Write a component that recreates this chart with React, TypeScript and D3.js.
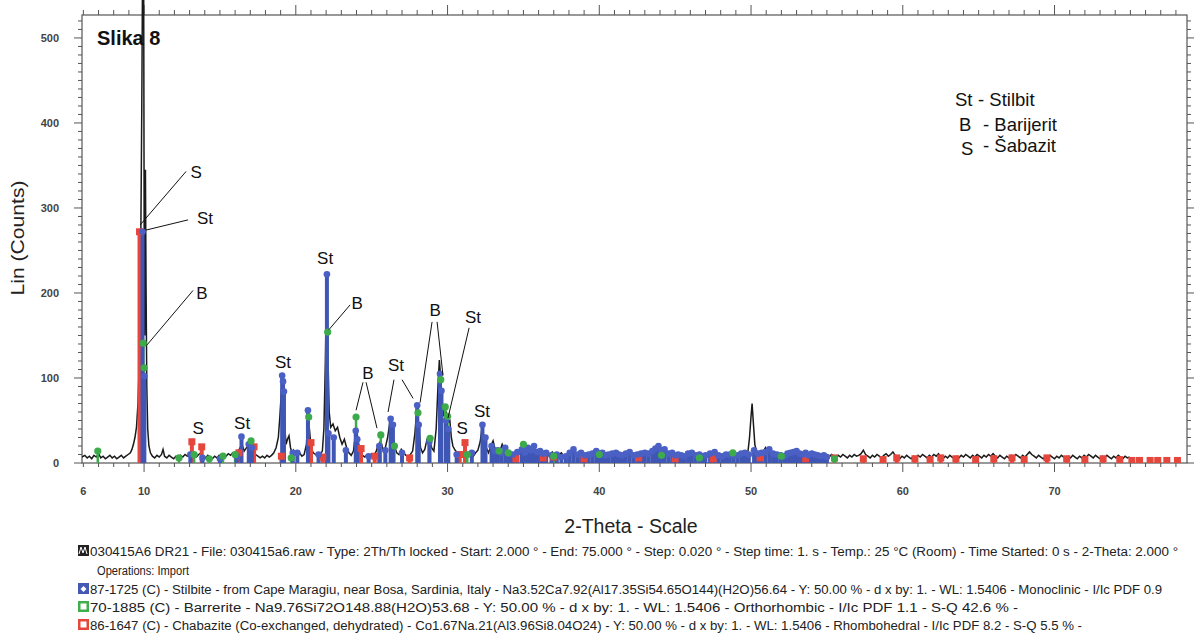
import * as d3 from "d3";

const traceA = [
  [5.9, 7], [6.1, 9], [6.25, 6], [6.4, 8], [6.55, 5], [6.7, 9], [6.85, 7], [7.0, 11], [7.15, 6], [7.3, 8],
  [7.45, 5], [7.6, 7], [7.75, 9], [7.9, 6], [8.05, 8], [8.2, 5], [8.35, 7], [8.5, 9], [8.65, 6], [8.8, 8],
  [8.95, 10], [9.1, 12], [9.2, 16], [9.3, 22], [9.4, 30], [9.5, 42], [9.6, 70], [9.7, 130], [9.78, 250],
  [9.85, 420], [9.92, 640], [9.97, 600], [10.01, 250], [10.05, 150], [10.09, 345], [10.13, 210], [10.18, 90],
  [10.24, 40], [10.32, 20], [10.42, 12], [10.55, 8], [10.7, 6], [10.85, 9], [11.0, 7], [11.15, 10], [11.25, 16],
  [11.35, 8], [11.5, 6], [11.65, 9], [11.8, 7], [11.95, 5],
];
const traceB = [
  [12.1, 8], [12.25, 6], [12.4, 9], [12.55, 7], [12.7, 10], [12.85, 8], [13.0, 11], [13.15, 14], [13.3, 9],
  [13.45, 7], [13.6, 10], [13.75, 12], [13.9, 8], [14.05, 6], [14.2, 9], [14.35, 7], [14.5, 5], [14.65, 8],
  [14.8, 6], [14.95, 9], [15.1, 7], [15.25, 10], [15.4, 8], [15.55, 11], [15.7, 9], [15.85, 12], [16.0, 10],
  [16.15, 13], [16.3, 17], [16.45, 22], [16.6, 14], [16.75, 18], [16.9, 21], [17.05, 19], [17.2, 15], [17.35, 10],
  [17.5, 8], [17.65, 6], [17.8, 8], [17.95, 6], [18.1, 9], [18.25, 7], [18.4, 9], [18.55, 12], [18.7, 18],
  [18.85, 30], [18.95, 55], [19.05, 85], [19.12, 98], [19.2, 80], [19.28, 40], [19.36, 22], [19.45, 28],
  [19.55, 32], [19.65, 18], [19.75, 12], [19.85, 15], [19.95, 10],
];
const traceC = [
  [20.1, 9], [20.25, 12], [20.4, 8], [20.55, 10], [20.7, 22], [20.8, 50], [20.9, 40], [21.0, 18], [21.15, 12],
  [21.3, 10], [21.45, 8], [21.6, 10], [21.75, 14], [21.85, 40], [21.95, 120], [22.03, 215], [22.1, 140],
  [22.2, 60], [22.3, 42], [22.45, 46], [22.6, 38], [22.75, 42], [22.9, 30], [23.05, 22], [23.2, 28], [23.35, 18],
  [23.5, 12], [23.65, 9], [23.8, 14], [23.9, 30], [24.0, 42], [24.1, 26], [24.25, 12], [24.4, 9], [24.55, 7],
  [24.7, 10], [24.85, 8], [25.0, 11], [25.15, 9], [25.3, 14], [25.45, 22], [25.6, 26], [25.75, 15], [25.9, 18],
  [26.05, 30], [26.2, 48], [26.35, 40], [26.5, 20], [26.65, 12], [26.8, 10], [26.95, 16], [27.1, 12], [27.25, 9],
  [27.4, 8], [27.55, 10], [27.7, 14], [27.85, 35], [27.98, 66], [28.1, 45], [28.22, 18], [28.35, 12], [28.5, 16],
  [28.65, 28], [28.8, 30], [28.95, 18], [29.1, 14], [29.25, 40], [29.38, 95], [29.46, 121], [29.55, 100],
  [29.65, 70], [29.75, 55], [29.85, 62], [29.95, 58], [30.05, 48], [30.15, 50], [30.25, 30], [30.35, 20],
  [30.5, 15], [30.65, 12], [30.8, 10], [30.95, 8], [31.1, 11], [31.25, 9], [31.4, 12], [31.55, 10], [31.7, 8],
  [31.85, 12], [32.0, 15], [32.15, 25], [32.28, 42], [32.4, 30], [32.55, 18], [32.7, 12], [32.85, 20], [33.0, 26],
  [33.15, 15], [33.3, 10], [33.45, 14], [33.6, 22], [33.75, 16], [33.9, 11], [34.05, 9], [34.2, 12], [34.35, 8],
  [34.5, 10], [34.65, 9], [34.8, 13], [34.95, 16],
];
const traceD = [
  [35.1, 12], [35.25, 15], [35.4, 11], [35.55, 14], [35.7, 17], [35.85, 12], [36.0, 15], [36.15, 11], [36.3, 9],
  [36.45, 12], [36.6, 8], [36.75, 10], [36.9, 13], [37.05, 9], [37.2, 7], [37.35, 10], [37.5, 12], [37.65, 8],
  [37.8, 6], [37.95, 8], [38.1, 11], [38.25, 14], [38.4, 10], [38.55, 8], [38.7, 11], [38.85, 9], [39.0, 7],
  [39.15, 10], [39.3, 8], [39.45, 11], [39.6, 9], [39.75, 12], [39.9, 10], [40.05, 8], [40.2, 11], [40.35, 9],
  [40.5, 7], [40.65, 10], [40.8, 8], [40.95, 12], [41.1, 10], [41.25, 8], [41.4, 11], [41.55, 9], [41.7, 7],
  [41.85, 10], [42.0, 12], [42.15, 9], [42.3, 7], [42.45, 10], [42.6, 8], [42.75, 11], [42.9, 9], [43.05, 12],
  [43.2, 10], [43.35, 13], [43.5, 11], [43.65, 15], [43.8, 18], [43.95, 14], [44.1, 11], [44.25, 13], [44.4, 10],
  [44.55, 8], [44.7, 11], [44.85, 9], [45.0, 7], [45.15, 10], [45.3, 8], [45.45, 6], [45.6, 9], [45.75, 7],
  [45.9, 10], [46.05, 8], [46.2, 11], [46.35, 9], [46.5, 7], [46.65, 10], [46.8, 8], [46.95, 6], [47.1, 9],
  [47.25, 7], [47.4, 10], [47.55, 12], [47.7, 9], [47.85, 7], [48.0, 10], [48.15, 8], [48.3, 6], [48.45, 9],
  [48.6, 11], [48.75, 8], [48.9, 10], [49.05, 8], [49.2, 7], [49.35, 10], [49.5, 12], [49.65, 9], [49.8, 14],
  [49.9, 30], [50.0, 55], [50.07, 70], [50.15, 48], [50.25, 22], [50.35, 14], [50.5, 11], [50.65, 9], [50.8, 13],
  [50.95, 18], [51.1, 12], [51.25, 9], [51.4, 11], [51.55, 8], [51.7, 10], [51.85, 7], [52.0, 9], [52.15, 11],
  [52.3, 8], [52.45, 10], [52.6, 12], [52.75, 9], [52.9, 14], [53.05, 11], [53.2, 8], [53.35, 10], [53.5, 7],
  [53.65, 9], [53.8, 8], [53.95, 10], [54.1, 7], [54.25, 9], [54.4, 6], [54.55, 8], [54.7, 10], [54.85, 7],
];
const traceE = [
  [55.0, 9], [55.15, 7], [55.3, 10], [55.45, 8], [55.6, 6], [55.75, 9], [55.9, 7], [56.05, 10], [56.2, 8],
  [56.35, 6], [56.5, 9], [56.65, 7], [56.8, 10], [56.95, 8], [57.1, 9], [57.25, 11], [57.4, 15], [57.55, 10],
  [57.7, 8], [57.85, 6], [58.0, 9], [58.15, 7], [58.3, 10], [58.45, 8], [58.6, 6], [58.75, 9], [58.9, 11],
  [59.05, 8], [59.2, 10], [59.35, 13], [59.5, 9], [59.65, 7], [59.8, 5], [59.95, 8], [60.1, 6], [60.25, 9],
  [60.4, 7], [60.55, 5], [60.7, 8], [60.85, 6], [61.0, 9], [61.15, 7], [61.3, 10], [61.45, 8], [61.6, 6],
  [61.75, 9], [61.9, 7], [62.05, 10], [62.2, 8], [62.35, 11], [62.5, 7], [62.65, 5], [62.8, 8], [62.95, 6],
  [63.1, 9], [63.25, 7], [63.4, 5], [63.55, 8], [63.7, 6], [63.85, 9], [64.0, 7], [64.15, 10], [64.3, 8],
  [64.45, 6], [64.6, 9], [64.75, 7], [64.9, 10], [65.05, 8], [65.2, 6], [65.35, 9], [65.5, 7], [65.65, 10],
  [65.8, 8], [65.95, 11], [66.1, 8], [66.25, 6], [66.4, 9], [66.55, 7], [66.7, 5], [66.85, 8], [67.0, 6],
  [67.15, 9], [67.3, 7], [67.45, 10], [67.6, 8], [67.75, 6], [67.9, 9], [68.05, 7], [68.2, 10], [68.35, 13],
  [68.5, 10], [68.65, 8], [68.8, 6], [68.95, 9], [69.1, 7], [69.25, 5], [69.4, 8], [69.55, 6], [69.7, 9],
  [69.85, 7], [70.0, 5], [70.15, 8], [70.3, 6], [70.45, 9], [70.6, 7], [70.75, 5], [70.9, 8], [71.05, 6],
  [71.2, 9], [71.35, 7], [71.5, 5], [71.65, 8], [71.8, 6], [71.95, 9], [72.1, 7], [72.25, 10], [72.4, 8],
  [72.55, 6], [72.7, 9], [72.85, 7], [73.0, 5], [73.15, 8], [73.3, 6], [73.45, 9], [73.6, 7], [73.75, 5],
  [73.9, 8], [74.05, 6], [74.2, 9], [74.35, 7], [74.5, 5], [74.65, 8], [74.8, 6], [74.95, 7],
];

// reference patterns (sticks): [2-theta, intensity]
const stilbite = [
  [9.9, 272], [10.02, 102], [13.05, 10], [13.85, 6], [15.0, 5], [16.1, 8], [16.42, 31], [16.9, 22], [17.1, 18],
  [19.1, 103], [19.16, 96], [19.22, 84], [19.8, 12], [20.1, 12], [20.8, 62], [21.5, 10], [22.05, 222], [22.15, 35],
  [22.5, 30], [23.3, 15], [23.95, 38], [24.05, 28], [24.8, 8], [25.5, 20], [25.9, 15], [26.25, 52], [26.4, 45],
  [27.0, 12], [28.0, 68], [28.1, 45], [28.8, 25], [29.5, 105], [29.6, 85], [29.9, 50], [30.05, 40], [30.6, 10],
  [31.6, 12], [32.3, 45], [32.5, 30], [32.9, 20], [33.1, 14], [33.3, 15], [33.55, 12], [33.8, 18], [34.05, 11],
  [34.3, 10], [34.6, 13], [34.9, 16], [35.1, 12], [35.3, 18], [35.5, 15], [35.7, 20], [35.9, 13], [36.1, 14],
  [36.3, 11], [36.5, 12], [36.85, 9], [37.2, 10], [37.5, 7], [37.8, 8], [38.05, 12], [38.3, 16], [38.55, 10],
  [38.8, 12], [39.05, 9], [39.3, 10], [39.55, 11], [39.8, 14], [40.0, 11], [40.2, 12], [40.4, 9], [40.6, 10],
  [40.85, 11], [41.1, 12], [41.3, 10], [41.5, 9], [41.75, 11], [42.0, 13], [42.25, 9], [42.5, 10], [42.75, 11],
  [43.0, 12], [43.25, 11], [43.5, 14], [43.7, 17], [43.9, 20], [44.1, 15], [44.3, 16], [44.55, 11], [44.8, 12],
  [45.0, 9], [45.2, 10], [45.4, 9], [45.6, 8], [45.85, 11], [46.1, 12], [46.35, 9], [46.6, 10], [46.8, 8],
  [47.0, 9], [47.3, 11], [47.6, 13], [47.85, 9], [48.1, 8], [48.35, 10], [48.6, 10], [48.85, 9], [49.1, 9],
  [49.35, 11], [49.6, 12], [49.85, 10], [50.2, 15], [50.45, 11], [50.7, 12], [50.95, 13], [51.2, 16], [51.45, 11],
  [51.7, 10], [51.95, 9], [52.2, 8], [52.4, 11], [52.6, 12], [52.8, 13], [53.0, 14], [53.2, 11], [53.4, 10],
  [53.6, 12], [53.8, 9], [54.0, 11], [54.2, 10], [54.4, 9], [54.6, 8], [54.8, 9], [55.0, 7],
];
const barrerite = [
  [6.95, 14], [9.95, 141], [10.0, 112], [12.3, 6], [13.3, 10], [14.3, 5], [15.2, 8], [16.0, 10], [17.05, 26],
  [19.7, 6], [20.85, 54], [22.1, 154], [23.97, 54], [25.6, 33], [26.5, 20], [28.05, 59], [28.85, 29], [29.55, 98],
  [29.85, 66], [30.0, 55], [31.3, 10], [33.4, 14], [34.0, 12], [35.0, 22], [37.0, 8], [40.0, 10], [44.1, 9],
  [46.6, 6], [48.8, 12], [52.0, 8], [55.5, 5],
];
const chabazite = [
  [9.7, 272], [13.15, 25], [13.8, 19], [16.25, 12], [17.25, 19], [19.05, 8], [21.0, 24], [21.78, 7], [24.3, 17],
  [25.2, 8], [27.5, 6], [30.8, 10], [31.15, 24], [34.5, 5], [36.3, 6], [37.0, 7], [39.0, 5], [42.6, 6], [45.0, 5],
  [47.5, 5], [50.6, 6], [53.6, 5], [55.5, 6], [57.4, 5], [58.7, 4], [59.6, 6], [60.8, 5], [61.8, 4], [62.5, 6],
  [63.5, 5], [64.8, 4], [66.0, 5], [67.2, 6], [68.0, 4], [69.5, 6], [70.8, 5], [72.0, 4], [73.2, 5], [74.3, 4],
  [75.1, 3], [75.6, 3], [76.3, 3], [76.8, 3], [77.4, 3], [78.1, 3],
];

const xTickLabels = [6, 10, 20, 30, 40, 50, 60, 70];
const yTickLabels = [0, 100, 200, 300, 400, 500];

// peak annotations in data units: label centre and leader lines
const peakLabels = [
  { text: "S", at: [13.43, 342], lines: [[9.74, 280, 12.77, 343]] },
  { text: "St", at: [14.02, 288], lines: [[10.13, 274, 12.9, 286]] },
  { text: "B", at: [13.82, 200], lines: [[10.2, 139, 13.23, 203]] },
  { text: "St", at: [21.93, 241], lines: [] },
  { text: "B", at: [24.04, 188], lines: [[22.19, 157, 23.58, 186]] },
  { text: "St", at: [19.16, 119], lines: [] },
  { text: "S", at: [13.56, 41], lines: [] },
  { text: "St", at: [16.46, 47], lines: [] },
  { text: "B", at: [24.76, 106], lines: [[24.43, 95, 23.97, 62], [24.63, 95, 25.35, 41]] },
  { text: "St", at: [26.6, 115], lines: [[26.47, 98, 26.08, 60], [27.0, 98, 27.73, 76]] },
  { text: "B", at: [29.18, 180], lines: [[28.98, 166, 28.19, 71], [29.31, 166, 29.7, 103]] },
  { text: "St", at: [31.68, 172], lines: [[31.42, 159, 30.03, 53]] },
  { text: "S", at: [30.96, 41], lines: [] },
  { text: "St", at: [32.27, 61], lines: [] },
];

const phaseKey = [
  { abbr: "St", name: "- Stilbit" },
  { abbr: "B", name: "- Barijerit" },
  { abbr: "S", name: "- Šabazit" },
];

const scanInfo = [
  { icon: "scan", text: "030415A6 DR21 - File: 030415a6.raw - Type: 2Th/Th locked - Start: 2.000 ° - End: 75.000 ° - Step: 0.020 ° - Step time: 1. s - Temp.: 25 °C (Room) - Time Started: 0 s - 2-Theta: 2.000 °", len: 1088 },
  { icon: "", text: "Operations: Import", len: 92 },
  { icon: "#4458b4", text: "87-1725 (C) - Stilbite - from Cape Maragiu, near Bosa, Sardinia, Italy - Na3.52Ca7.92(Al17.35Si54.65O144)(H2O)56.64 - Y: 50.00 % - d x by: 1. - WL: 1.5406 - Monoclinic - I/Ic PDF 0.9", len: 1072 },
  { icon: "#3fae4b", text: "70-1885 (C) - Barrerite - Na9.76Si72O148.88(H2O)53.68 - Y: 50.00 % - d x by: 1. - WL: 1.5406 - Orthorhombic - I/Ic PDF 1.1 - S-Q 42.6 % -", len: 928 },
  { icon: "#e5473d", text: "86-1647 (C) - Chabazite (Co-exchanged, dehydrated) - Co1.67Na.21(Al3.96Si8.04O24) - Y: 50.00 % - d x by: 1. - WL: 1.5406 - Rhombohedral - I/Ic PDF 8.2 - S-Q 5.5 % -", len: 992 },
];

const BLUE = "#3f56b5";
const GREEN = "#3daa4b";
const RED = "#e5473d";
const AXIS = "#555";

export default function App() {
  const left = 82, right = 1187, top = 15, bottom = 463;
  const x = d3.scaleLinear().domain([5.91, 78.73]).range([left, right]);
  const y = d3.scaleLinear().domain([0, 527]).range([bottom, top]);

  const trace = [...traceA, ...traceB, ...traceC, ...traceD, ...traceE];
  const line = d3.line<number[]>().x((d) => x(d[0])).y((d) => y(d[1]));

  const minorX = d3.range(6, 79);
  const minorY = d3.range(0, 527, 10);

  const font = "'Liberation Sans', Arial, sans-serif";

  return (
    <svg width={1195} height={635} style={{ position: "absolute", left: 0, top: 0, background: "#fff" }} fontFamily={font}>
      <defs>
        <clipPath id="plotclip">
          <rect x={left} y={0} width={right - left} height={bottom} />
        </clipPath>
      </defs>

      {/* frame */}
      <rect x={left} y={top} width={right - left} height={bottom - top} fill="none" stroke={AXIS} strokeWidth={1.2} />

      {/* bottom + top ticks */}
      {minorX.map((t) => {
        const major = t % 10 === 0;
        return (
          <g key={"tx" + t} stroke={AXIS} strokeWidth={1}>
            <line x1={x(t)} x2={x(t)} y1={bottom} y2={bottom + (major ? 9 : 4)} />
            <line x1={x(t)} x2={x(t)} y1={top} y2={top - (major ? 10 : 5)} />
          </g>
        );
      })}
      {xTickLabels.map((t) => (
        <text key={"xl" + t} x={x(t)} y={495} textAnchor="middle" fontSize={11} fontWeight="bold" fill="#444">
          {t}
        </text>
      ))}

      {/* left + right ticks */}
      {minorY.map((c) => {
        const major = c % 100 === 0;
        return (
          <g key={"ty" + c} stroke={AXIS} strokeWidth={1}>
            <line x1={left} x2={left - (major ? 8 : 4)} y1={y(c)} y2={y(c)} />
            <line x1={right} x2={right + (major ? 7 : 4)} y1={y(c)} y2={y(c)} />
          </g>
        );
      })}
      {yTickLabels.map((c) => (
        <text key={"yl" + c} x={59} y={y(c) + 4} textAnchor="end" fontSize={11} fontWeight="bold" fill="#444">
          {c}
        </text>
      ))}

      {/* measured pattern */}
      <path d={line(trace) || ""} fill="none" stroke="#1a1a1a" strokeWidth={1.5} clipPath="url(#plotclip)" />

      {/* reference sticks */}
      <g clipPath="url(#plotclip)">
        {chabazite.map((d, i) => (
          <line key={"rs" + i} x1={x(d[0])} x2={x(d[0])} y1={y(0)} y2={y(d[1])} stroke={RED} strokeWidth={4} />
        ))}
        {barrerite.map((d, i) => (
          <line key={"gs" + i} x1={x(d[0])} x2={x(d[0])} y1={y(0)} y2={y(d[1])} stroke={GREEN} strokeWidth={2.5} />
        ))}
        {stilbite.map((d, i) => (
          <line key={"bs" + i} x1={x(d[0])} x2={x(d[0])} y1={y(0)} y2={y(d[1])} stroke={BLUE} strokeWidth={4} />
        ))}
        {chabazite.map((d, i) => (
          <rect key={"rm" + i} x={x(d[0]) - 3.5} y={y(d[1]) - 3.5} width={7} height={7} fill={RED} />
        ))}
        {stilbite.map((d, i) => (
          <circle key={"bm" + i} cx={x(d[0])} cy={y(d[1])} r={3.3} fill="#4a60c4" />
        ))}
        {barrerite.map((d, i) => (
          <circle key={"gm" + i} cx={x(d[0])} cy={y(d[1])} r={3.6} fill={GREEN} />
        ))}
      </g>

      {/* peak annotations */}
      {peakLabels.map((p, i) => (
        <g key={"pl" + i}>
          {p.lines.map((l, j) => (
            <line key={j} x1={x(l[0])} y1={y(l[1])} x2={x(l[2])} y2={y(l[3])} stroke="#111" strokeWidth={1} />
          ))}
          <text x={x(p.at[0])} y={y(p.at[1]) + 6} textAnchor="middle" fontSize={17} fill="#111">
            {p.text}
          </text>
        </g>
      ))}

      <text x={97} y={45} fontSize={20} fontWeight="bold" fill="#111">
        Slika 8
      </text>

      {/* phase key */}
      {phaseKey.map((k, i) => (
        <g key={"pk" + i}>
          <text x={[955, 959, 961][i]} y={[106, 131, 155][i]} fontSize={18.5} fill="#111">
            {k.abbr}
          </text>
          <text x={[978, 983, 983][i]} y={[106, 131, 152][i]} fontSize={18.5} fill="#111">
            {k.name}
          </text>
        </g>
      ))}

      {/* axis titles */}
      <text x={631} y={533} textAnchor="middle" fontSize={19.5} fill="#222">
        2-Theta - Scale
      </text>
      <text transform="translate(24,238) rotate(-90)" textAnchor="middle" fontSize={19} fill="#222" textLength={115} lengthAdjust="spacingAndGlyphs">
        Lin (Counts)
      </text>

      {/* scan / reference info block */}
      {scanInfo.map((s, i) => {
        const cy = [551, 570, 589, 607, 625][i];
        const tx = s.icon === "" ? 97 : 90;
        return (
          <g key={"si" + i}>
            {s.icon === "scan" && (
              <g>
                <rect x={78} y={cy - 6} width={11} height={11} fill="#222" />
                <polyline points={`${79},${cy + 3} ${81},${cy - 4} ${83},${cy + 2} ${85},${cy - 4} ${87},${cy + 3}`} fill="none" stroke="#fff" strokeWidth={1} />
              </g>
            )}
            {s.icon !== "scan" && s.icon !== "" && (
              <g>
                <rect x={78} y={cy - 6} width={11} height={11} fill={s.icon} />
                {s.icon === "#4458b4" ? (
                  <path d={`M83.5,${cy - 3} L86.5,${cy} L83.5,${cy + 3} L80.5,${cy} Z`} fill="#fff" />
                ) : (
                  <rect x={80.5} y={cy - 3.5} width={6} height={6} fill="#fff" />
                )}
              </g>
            )}
            <text x={tx} y={cy + 4.5} fontSize={12.5} fill="#222" textLength={s.len} lengthAdjust="spacingAndGlyphs">
              {s.text}
            </text>
          </g>
        );
      })}
    </svg>
  );
}
